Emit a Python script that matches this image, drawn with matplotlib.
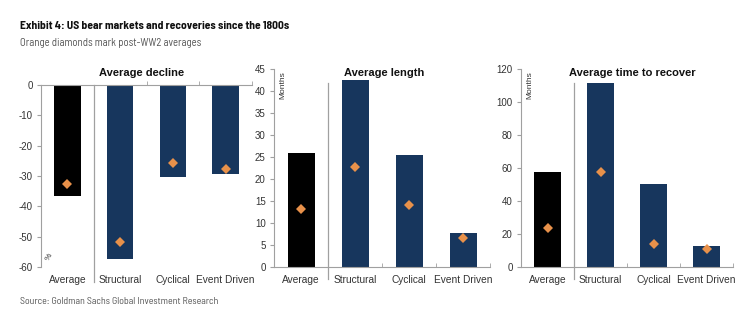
import numpy as np
import matplotlib.pyplot as plt

# categories and values
categories = ['Average', 'Structural', 'Cyclical', 'Event Driven']
decline_all = [-36.7, -57.4, -30.3, -29.4]
decline_postww2 = [-32.5, -51.6, -25.8, -27.8]
length_all = [26.0, 42.5, 25.5, 7.8]
length_postww2 = [13.1, 22.7, 14.0, 6.5]
recover_all = [57.4, 111.5, 50.3, 12.5]
recover_postww2 = [23.6, 57.8, 13.7, 10.9]

navy = '#17365d'
orange = '#e8914a'
grey = '#a0a0a0'
txt = '#333333'

plt.rcParams['font.family'] = ['Liberation Sans', 'DejaVu Sans']
plt.rcParams['axes.unicode_minus'] = False

fig = plt.figure(figsize=(7.52, 3.2), dpi=100)
W, H = 752.0, 320.0

def make_ax(left, right, top, bottom):
    return fig.add_axes([left / W, 1 - bottom / H, (right - left) / W, (bottom - top) / H])

ax1 = make_ax(41, 252, 85, 267)
ax2 = make_ax(274, 490, 69, 267)
ax3 = make_ax(521, 733, 69, 267)

x = np.arange(len(categories))
bar_colors = ['black', navy, navy, navy]

def style(ax, vals, pts, ylim, yticks, top_axis=False):
    ax.bar(x, vals, width=0.5, color=bar_colors, zorder=2)
    ax.plot(x, pts, 'D', color=orange, markersize=5.5, markeredgewidth=0, zorder=3)
    ax.set_xlim(-0.5, 3.5)
    ax.set_ylim(*ylim)
    ax.set_yticks(yticks)
    ax.set_xticks(x)
    ax.set_xticklabels(categories, fontsize=7.3, color=txt)
    ax.set_xticks([1.5, 2.5, 3.5], minor=True)
    ax.tick_params(axis='x', which='major', length=0, pad=6)
    ax.tick_params(axis='y', which='major', length=3, labelsize=7, colors=grey, labelcolor=txt, pad=3)
    for s in ['right', 'top', 'bottom']:
        ax.spines[s].set_visible(False)
    ax.spines['left'].set_color(grey)
    tr = ax.get_xaxis_transform()
    if top_axis:
        ax.spines['top'].set_visible(True)
        ax.spines['top'].set_color(grey)
        ax.tick_params(axis='x', which='minor', length=3, color=grey, top=True, bottom=False, direction='out')
        ax.plot([0.5, 0.5], [-0.08, 1.0], color=grey, lw=0.9, transform=tr, clip_on=False)
    else:
        ax.spines['bottom'].set_visible(True)
        ax.spines['bottom'].set_color(grey)
        ax.tick_params(axis='x', which='minor', length=3, color=grey, direction='in')
        ax.plot([0.5, 0.5], [-0.06, 0.93], color=grey, lw=0.9, transform=tr, clip_on=False)

style(ax1, decline_all, decline_postww2, (-60, 0), np.arange(-60, 1, 10), top_axis=True)
style(ax2, length_all, length_postww2, (0, 45), np.arange(0, 46, 5))
style(ax3, recover_all, recover_postww2, (0, 120), np.arange(0, 121, 20))

ax1.text(0.04, 0.03, '%', transform=ax1.transAxes, rotation=60, fontsize=6, color=txt, ha='center', va='bottom')
ax2.text(0.04, 0.99, 'Months', transform=ax2.transAxes, rotation=90, fontsize=6, color=txt, ha='center', va='top')
ax3.text(0.04, 0.99, 'Months', transform=ax3.transAxes, rotation=90, fontsize=6, color=txt, ha='center', va='top')

title_kw = dict(fontsize=8, fontweight='bold', color='#111111', ha='center', va='center')
fig.text(142 / W, 1 - 73 / H, 'Average decline', **title_kw)
fig.text(384 / W, 1 - 73 / H, 'Average length', **title_kw)
fig.text(632 / W, 1 - 73 / H, 'Average time to recover', **title_kw)

head_font = ['Barlow Semi Condensed', 'Liberation Sans', 'DejaVu Sans']
fig.text(20 / W, 1 - 26 / H, 'Exhibit 4: US bear markets and recoveries since the 1800s',
         fontsize=8.3, fontweight='bold', color='#111111', ha='left', va='center', family=head_font)
fig.text(20 / W, 1 - 43 / H, 'Orange diamonds mark post-WW2 averages',
         fontsize=7.7, color='#555555', ha='left', va='center', family=head_font)
fig.text(20 / W, 1 - 301 / H, 'Source: Goldman Sachs Global Investment Research',
         fontsize=7.1, color='#555555', ha='left', va='center', family=head_font)

fig.savefig('out.png', dpi=100, facecolor='white')
